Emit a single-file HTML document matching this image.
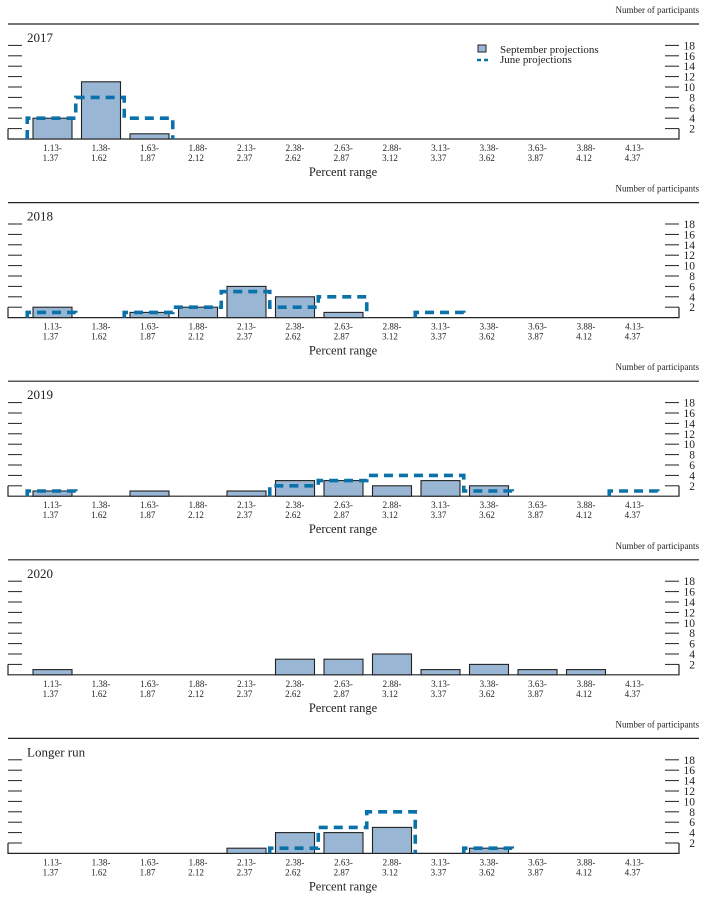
<!DOCTYPE html>
<html><head><meta charset="utf-8"><style>
html,body{margin:0;padding:0;background:#fff;width:708px;height:900px;overflow:hidden}
svg{display:block;font-family:"Liberation Serif",serif}
</style></head><body>
<svg id="chart" width="708" height="900" viewBox="0 0 708 900"></svg>
<script>
const categories = ["1.13-|1.37","1.38-|1.62","1.63-|1.87","1.88-|2.12","2.13-|2.37","2.38-|2.62","2.63-|2.87","2.88-|3.12","3.13-|3.37","3.38-|3.62","3.63-|3.87","3.88-|4.12","4.13-|4.37"];
const panelTitles = ["2017","2018","2019","2020","Longer run"];
const septValues = [
  [4,11,1,0,0,0,0,0,0,0,0,0,0],
  [2,0,1,2,6,4,1,0,0,0,0,0,0],
  [1,0,1,0,1,3,3,2,3,2,0,0,0],
  [1,0,0,0,0,3,3,4,1,2,1,1,0],
  [0,0,0,0,1,4,4,5,0,1,0,0,0]
];
const juneValues = [
  [4,8,4,0,0,0,0,0,0,0,0,0,0],
  [1,0,1,2,5,2,4,0,1,0,0,0,0],
  [1,0,0,0,0,2,3,4,4,1,0,0,1],
  null,
  [0,0,0,0,0,1,5,8,0,1,0,0,0]
];
const yTicks = [2,4,6,8,10,12,14,16,18];

const NS="http://www.w3.org/2000/svg";
const svg=document.getElementById('chart');
function mk(tag,attrs,parent,text){const e=document.createElementNS(NS,tag);for(const k in attrs)e.setAttribute(k,attrs[k]);if(text!==undefined)e.textContent=text;(parent||svg).appendChild(e);return e;}
const step=48.5, x0=52.5, unit=5.2, binW=48.5, barW=39;
function xc(i){return x0+i*step;}
function yv(base,v){return base-v*unit;}

panelTitles.forEach((title,p)=>{
  const rule=24+p*178.6, base=139+p*178.6;
  const g=mk('g',{});
  
  
  const np=mk('text',{x:699,y:rule-11,'text-anchor':'end','font-size':'9',fill:'#222'},g,'Number of participants');
  
  
  const r=mk('line',{x1:8,x2:699,y1:rule,y2:rule,stroke:'#222','stroke-width':1.2},g);
  
  
  const t=mk('text',{x:27,y:rule+18,'font-size':'13',fill:'#222'},g,title);
  
  
  // ticks
  yTicks.forEach(v=>{
    const y=yv(base,v);
    mk('line',{x1:8,x2:22,y1:y,y2:y,stroke:'#222','stroke-width':1},g);
    mk('line',{x1:665,x2:679,y1:y,y2:y,stroke:'#222','stroke-width':1},g);
    const tl=mk('text',{x:695,y:y+4,'text-anchor':'end','font-size':'11.5',fill:'#222'},g,String(v));
    
    
  });
  const ax=mk('path',{d:`M8 ${yv(base,2)} V${base} H679 V${yv(base,2)}`,fill:'none',stroke:'#222','stroke-width':1.2},g);
  
  
  // bars
  septValues[p].forEach((v,i)=>{
    if(v<=0)return;
    const b=mk('rect',{x:xc(i)-barW/2,y:yv(base,v),width:barW,height:v*unit,fill:'#99b6d5',stroke:'#222','stroke-width':1.1},g);
    
    
  });
  // june dashed step
  const jv=juneValues[p];
  if(jv){
    let d='';let prev=0;
    for(let i=0;i<=jv.length;i++){
      const v=i<jv.length?jv[i]:0;
      const xl=xc(i)-binW/2-1;
      if(v!==prev){
        if(prev===0) d+=`M${xl} ${base} `;
        d+=`L${xl} ${yv(base,v)} `;
      }
      if(v>0) d+=`L${xl+binW+2*0} ${yv(base,v)} `;
      prev=v;
    }
    const jp=mk('path',{d:d,fill:'none',stroke:'#0b72a9','stroke-width':3.6,'stroke-dasharray':'9 6'},g);
    
    
  }
  // x labels
  categories.forEach((c,i)=>{
    const [a,b]=c.split('|');
    const l1=mk('text',{x:xc(i),y:base+12,'text-anchor':'middle','font-size':'9',fill:'#222'},g,a);
    
    
    const l2=mk('text',{x:xc(i)-2,y:base+22,'text-anchor':'middle','font-size':'9',fill:'#222'},g,b);
    
    
  });
  const xt=mk('text',{x:343,y:base+37,'text-anchor':'middle','font-size':'12.5',fill:'#222'},g,'Percent range');
  
  
  if(p===0){
    const lg=mk('g',{},g);
    
    
    const ls=mk('rect',{x:478,y:45,width:8,height:7,fill:'#99b6d5',stroke:'#222','stroke-width':1},lg);
    
    
    const lt1=mk('text',{x:500,y:53,'font-size':'11',fill:'#222'},lg,'September projections');
    
    
    const ll=mk('line',{x1:477,x2:491,y1:60,y2:60,stroke:'#0b72a9','stroke-width':2.5,'stroke-dasharray':'4 3'},lg);
    
    
    const lt2=mk('text',{x:500,y:63,'font-size':'11',fill:'#222'},lg,'June projections');
    
    
  }
});
</script>
</body></html>
